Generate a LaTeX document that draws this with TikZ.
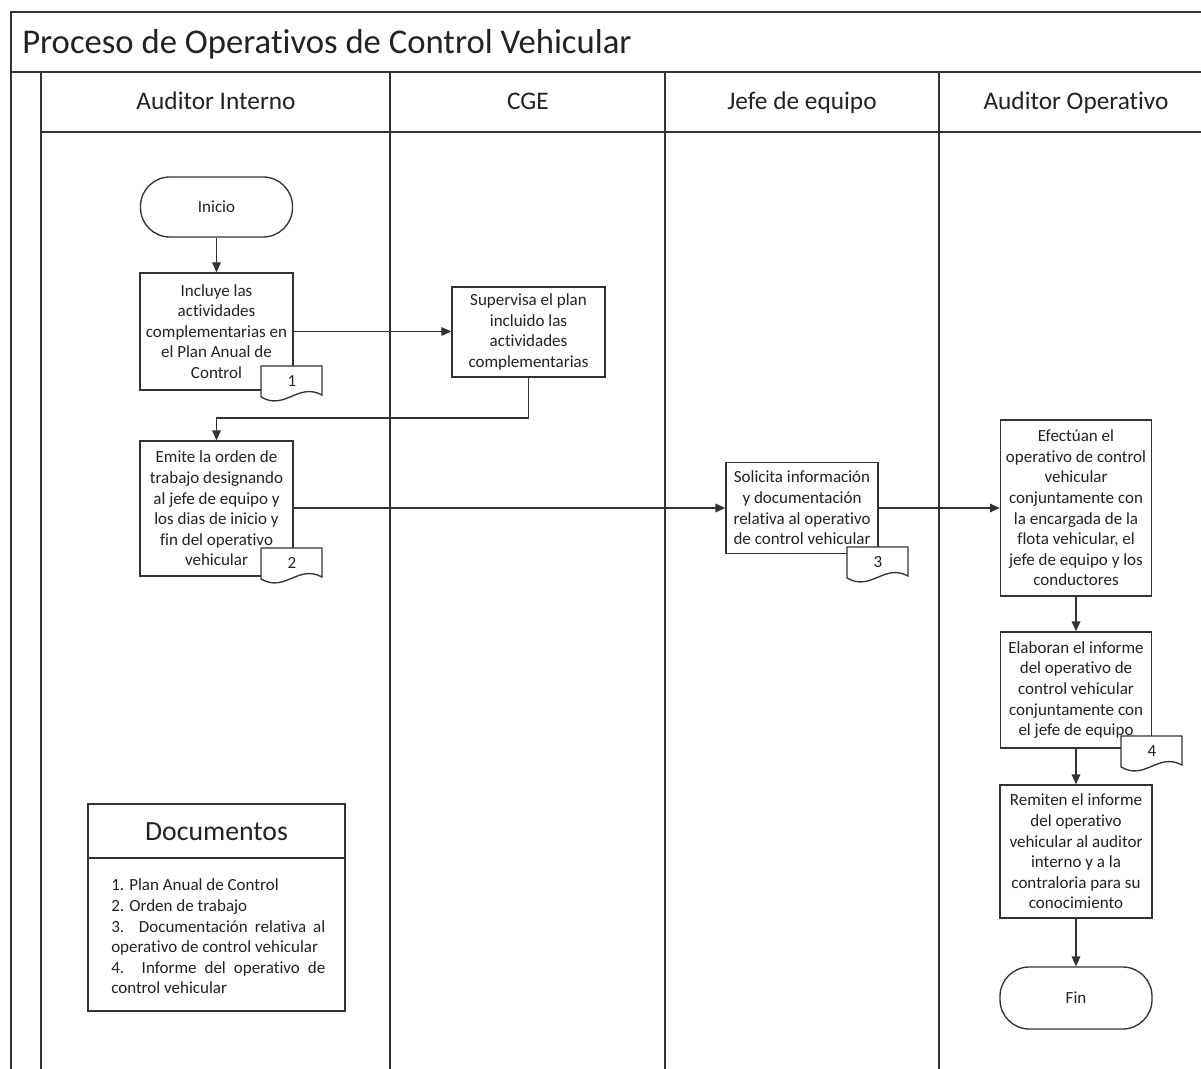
\documentclass[tikz,border=0pt]{standalone}
\usepackage{fontspec}
\setmainfont{Carlito}[Ligatures=NoCommon]
\usetikzlibrary{arrows.meta,calc}
\definecolor{linec}{HTML}{333333}
\definecolor{txtc}{HTML}{222222}
\newcommand{\docshape}[4]{%
  \filldraw[fill=white,draw=linec,line width=1pt] (#1,#2) -- ({#1+61},#2) -- ({#1+61},{#2+29})
    .. controls ({#1+37},{#2+16}) and ({#1+24},{#2+45}) .. (#1,{#2+31}) -- cycle;
  \node[doclbl] (#3) at ({#1+31},{#2+15}) {#4};}
\begin{document}
\begin{tikzpicture}[x=0.75pt,y=-0.75pt,
  every node/.style={text=txtc},
  laneline/.style={draw=linec,line width=1pt},
  procbox/.style={draw=linec,line width=1pt,fill=white,align=center,
    font=\fontsize{12.75}{15.45}\selectfont,inner sep=1pt},
  termbox/.style={procbox,rounded corners=22pt},
  arr/.style={draw=linec,line width=1pt,-{Triangle[length=7.5pt,width=6.5pt]}},
  doclbl/.style={font=\fontsize{12.75}{15.45}\selectfont,inner sep=0pt},
  hdr/.style={font=\fontsize{19}{22}\selectfont,inner sep=0pt,anchor=base},
]
\useasboundingbox (0,0) rectangle (1201,1069);
\fill[white] (0,0) rectangle (1201,1069);

% pool frame
\draw[laneline] (11,1069) -- (11,12) -- (1201,12);
\draw[laneline] (11,72) -- (1201,72);
\draw[laneline] (41,132) -- (1201,132);
\foreach \xx in {41,390,665,939} \draw[laneline] (\xx,72) -- (\xx,1069);

\node[anchor=base west,inner sep=0pt,font=\fontsize{26}{30}\selectfont] (title) at (22,54) {Proceso de Operativos de Control Vehicular};
\node[hdr] (h1) at (216,110) {Auditor Interno};
\node[hdr] (h2) at (528,110) {CGE};
\node[hdr] (h3) at (802,110) {Jefe de equipo};
\node[hdr] (h4) at (1076,110) {Auditor Operativo};

% nodes
\node[termbox,minimum width=114pt,minimum height=45pt] (inicio) at (216.5,207) {Inicio};
\node[procbox,minimum width=114.75pt,minimum height=87.75pt] (b1) at (216.5,331.5)
  {Incluye las\\actividades\\complementarias en\\el Plan Anual de\\Control};
\node[procbox,minimum width=114.75pt,minimum height=67.5pt] (cge) at (528.5,332)
  {Supervisa el plan\\incluido las\\actividades\\complementarias};
\node[procbox,minimum width=114.75pt,minimum height=101.25pt] (b2) at (216.5,508.5)
  {Emite la orden de\\trabajo designando\\al jefe de equipo y\\los dias de inicio y\\fin del operativo\\vehicular};
\node[procbox,minimum width=114pt,minimum height=68.25pt] (jefe) at (802,508)
  {Solicita información\\y documentación\\relativa al operativo\\de control vehicular};
\node[procbox,minimum width=113.25pt,minimum height=132pt] (ao1) at (1076,508)
  {Efectúan el\\operativo de control\\vehicular\\conjuntamente con\\la encargada de la\\flota vehicular, el\\jefe de equipo y los\\conductores};
\node[procbox,minimum width=113.25pt,minimum height=87pt] (ao2) at (1076,690)
  {Elaboran el informe\\del operativo de\\control vehicular\\conjuntamente con\\el jefe de equipo};
\node[procbox,minimum width=114pt,minimum height=99.75pt] (ao3) at (1076,851.5)
  {Remiten el informe\\del operativo\\vehicular al auditor\\interno y a la\\contraloria para su\\conocimiento};
\node[termbox,minimum width=114pt,minimum height=46.5pt] (fin) at (1076,998) {Fin};

% document symbols
\docshape{261}{366}{d1}{1}
\docshape{261}{548}{d2}{2}
\docshape{847}{547}{d3}{3}
\docshape{1121}{736}{d4}{4}

% connectors
\coordinate (bend) at (528.5,418);
\draw[arr] (inicio) -- (b1);
\draw[arr] (b1.east) -- (b1.east -| cge.west);
\draw[arr] (cge.south) -- (bend) -| (b2.north);
\draw[arr] (b2.east |- jefe.west) -- (jefe.west);
\draw[arr] (jefe.east) -- (ao1.west);
\draw[arr] (ao1) -- (ao2);
\draw[arr] (ao2) -- (ao3);
\draw[arr] (ao3) -- (fin);

% documents legend
\node[draw=linec,line width=1pt,minimum width=192.75pt,minimum height=155.25pt,inner sep=0pt] (docs) at (216.5,907.5) {};
\draw[laneline] (docs.west |- 0,858) -- (docs.east |- 0,858);
\node[inner sep=0pt,font=\fontsize{20.8}{24}\selectfont] (docstitle) at (216.5,832) {Documentos};
\node[anchor=west,align=left,inner sep=0pt,font=\fontsize{12.75}{15.45}\selectfont] (doclist) at (111,936.5)
  {1. Plan Anual de Control\\
   2. Orden de trabajo\\
   \makebox[160.5pt][s]{3. Documentación relativa al}\\
   operativo de control vehicular\\
   \makebox[160.5pt][s]{4. Informe del operativo de}\\
   control vehicular};
\end{tikzpicture}
\end{document}
